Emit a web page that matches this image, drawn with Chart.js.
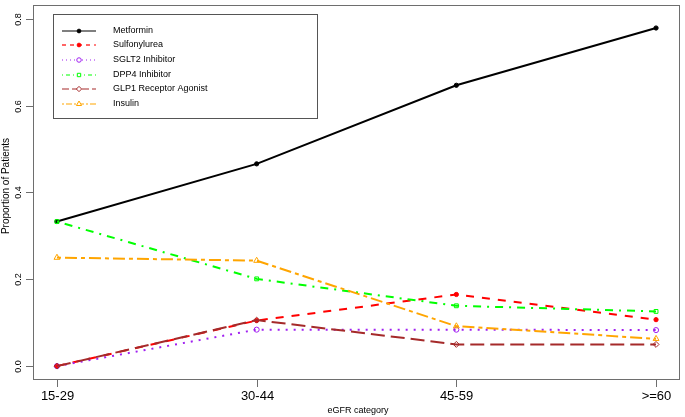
<!DOCTYPE html>
<html>
<head>
<meta charset="utf-8">
<script src="https://cdn.jsdelivr.net/npm/chart.js@4/dist/chart.umd.min.js"></script>
<style>
  html, body { margin: 0; padding: 0; background: #fff; }
  #wrap { width: 685px; height: 417px; position: relative; }
</style>
</head>
<body>
<div id="wrap"><canvas id="propChart" width="685" height="417"></canvas></div>
<script>
// data
const categories = ['15-29', '30-44', '45-59', '>=60'];
const yTicks = [0.0, 0.2, 0.4, 0.6, 0.8];

const metformin = [0.333, 0.466, 0.647, 0.779];
const sulfonylurea = [0.0, 0.105, 0.165, 0.107];
const sglt2 = [0.0, 0.084, 0.084, 0.083];
const dpp4 = [0.333, 0.201, 0.139, 0.126];
const glp1 = [0.0, 0.106, 0.050, 0.050];
const insulin = [0.250, 0.243, 0.092, 0.063];

const FONT = "'Liberation Sans', Arial, Helvetica, sans-serif";

function toPoints(vals) {
    return vals.map((v, i) => ({ x: i + 1, y: v }));
}

const series = [
    { label: 'Metformin', data: metformin, color: '#000000', dash: [], legDash: [], style: 'circle', fill: true, r: 2.5 },
    { label: 'Sulfonylurea', data: sulfonylurea, color: '#FF0000', dash: [8, 8], legDash: [4, 4], style: 'circle', fill: true, r: 2.5 },
    { label: 'SGLT2 Inhibitor', data: sglt2, color: '#A020F0', dash: [2, 6], legDash: [1, 3], style: 'circle', fill: false, r: 3 },
    { label: 'DPP4 Inhibitor', data: dpp4, color: '#00FF00', dash: [2, 6, 8, 6], legDash: [1, 3, 4, 3], style: 'rect', fill: false, r: 3.2 },
    { label: 'GLP1 Receptor Agonist', data: glp1, color: '#A52A2A', dash: [14, 6], legDash: [7, 3], style: 'rectRot', fill: false, r: 3.5 },
    { label: 'Insulin', data: insulin, color: '#FFA500', dash: [4, 4, 12, 4], legDash: [2, 2, 6, 2], style: 'triangle', fill: false, r: 4 }
];

// base-graphics style frame, ticks, labels and legend
const framePlugin = {
    id: 'frame',
    afterDraw(chart) {
        const ctx = chart.ctx;
        const a = chart.chartArea;
        const xs = chart.scales.x;
        const ys = chart.scales.y;
        ctx.save();
        ctx.strokeStyle = '#6e6e6e';
        ctx.lineWidth = 1;
        ctx.setLineDash([]);
        ctx.strokeRect(Math.round(a.left) + 0.5, Math.round(a.top) + 0.5,
            Math.round(a.right - a.left) - 1, Math.round(a.bottom - a.top) - 1);

        // x ticks
        ctx.fillStyle = '#000';
        ctx.font = '13px ' + FONT;
        ctx.textAlign = 'center';
        ctx.textBaseline = 'middle';
        categories.forEach((c, i) => {
            const px = Math.round(xs.getPixelForValue(i + 1)) + 0.5;
            ctx.beginPath();
            ctx.moveTo(px, a.bottom);
            ctx.lineTo(px, a.bottom + 7);
            ctx.stroke();
            ctx.fillText(c, px, 396);
        });

        // y ticks (labels parallel to axis)
        ctx.font = '9px ' + FONT;
        yTicks.forEach(t => {
            const py = Math.round(ys.getPixelForValue(t)) + 0.5;
            ctx.beginPath();
            ctx.moveTo(a.left, py);
            ctx.lineTo(a.left - 7, py);
            ctx.stroke();
            ctx.save();
            ctx.translate(19, py);
            ctx.rotate(-Math.PI / 2);
            ctx.fillText(t.toFixed(1), 0, 0);
            ctx.restore();
        });

        // axis titles
        ctx.font = '9px ' + FONT;
        ctx.fillText('eGFR category', 358, 411);
        ctx.save();
        ctx.translate(6, 186);
        ctx.rotate(-Math.PI / 2);
        ctx.font = '10px ' + FONT;
        ctx.fillText('Proportion of Patients', 0, 0);
        ctx.restore();

        // legend box
        ctx.strokeStyle = '#555';
        ctx.strokeRect(53.5, 14.5, 264, 104);
        ctx.font = '9px ' + FONT;
        ctx.textAlign = 'left';
        series.forEach((s, i) => {
            const y = Math.round(30.5 + i * 14.7);
            ctx.save();
            ctx.lineWidth = 1.2;
            ctx.setLineDash(s.legDash);
            ctx.strokeStyle = s.color;
            ctx.beginPath();
            ctx.moveTo(62, y);
            ctx.lineTo(96, y);
            ctx.stroke();
            ctx.restore();

            ctx.save();
            ctx.setLineDash([]);
            ctx.lineWidth = 1;
            ctx.strokeStyle = s.color;
            ctx.fillStyle = s.fill ? s.color : '#ffffff';
            Chart.helpers.drawPoint(ctx, {
                pointStyle: s.style,
                radius: s.r * 0.75,
                rotation: 0,
                borderWidth: 1
            }, 79, y);
            ctx.restore();

            ctx.fillStyle = '#000';
            ctx.fillText(s.label, 113, y);
        });
        ctx.restore();
    }
};

const ctx = document.getElementById('propChart').getContext('2d');

new Chart(ctx, {
    type: 'line',
    data: {
        datasets: series.map((s, i) => ({
            label: s.label,
            data: toPoints(s.data),
            borderColor: s.color,
            backgroundColor: s.fill ? s.color : '#ffffff',
            borderWidth: 2,
            borderDash: s.dash,
            pointStyle: s.style,
            pointRadius: s.r * 0.85,
            pointBorderWidth: 1,
            pointBorderColor: s.color,
            pointBackgroundColor: s.fill ? s.color : 'rgba(255,255,255,0)',
            tension: 0,
            order: series.length - i
        }))
    },
    options: {
        responsive: false,
        animation: false,
        events: [],
        layout: {
            padding: { left: 33, top: 2, right: 2, bottom: 37 }
        },
        plugins: {
            legend: { display: false },
            tooltip: { enabled: false }
        },
        scales: {
            x: { type: 'linear', min: 0.88, max: 4.12, display: false },
            y: { type: 'linear', min: -0.032, max: 0.832, display: false }
        }
    },
    plugins: [framePlugin]
});
</script>
</body>
</html>
